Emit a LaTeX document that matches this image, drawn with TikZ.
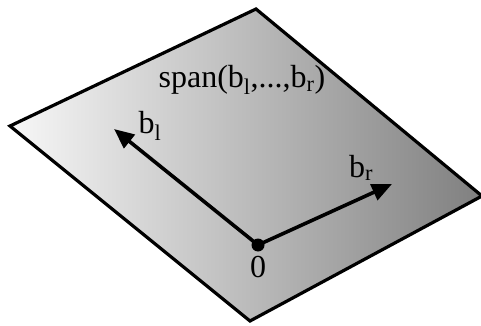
\documentclass[tikz,border=0pt]{standalone}
\usepackage{fontspec}
\setmainfont{Liberation Serif}
\usetikzlibrary{arrows.meta}

\begin{document}
\begin{tikzpicture}[
    x=1pt, y=-1pt,
    >={Triangle[length=20pt, width=17pt]},
    plane/.style  = {draw, line width=3.2pt, line join=miter,
                     left color=black!3, right color=black!50},
    vec/.style    = {->, line width=3.6pt},
    origin/.style = {circle, fill, inner sep=0pt, minimum size=13pt},
    lbl/.style    = {font=\fontsize{32}{36}\selectfont, inner sep=0pt}
]
\useasboundingbox (0, 0) rectangle (481, 326);

% Plane
\coordinate (top)    at (256, 9);
\coordinate (left)   at (10, 126);
\coordinate (bottom) at (250, 321);
\coordinate (right)  at (482, 196);
\path[plane] (top) -- (right) -- (bottom) -- (left) -- cycle;
\node[lbl] (span) at (242, 80) {span(b\textsubscript{l},...,b\textsubscript{r})};

% Basis vectors
\node[origin] (O) at (258, 245) {};
\coordinate (b1) at (114, 129);
\coordinate (br) at (392, 184);
\draw[vec] (O.center) -- (b1);
\draw[vec] (O.center) -- (br);
\node[lbl] (lb1) at (150, 126) {b\textsubscript{l}};
\node[lbl] (lbr) at (361, 168) {b\textsubscript{r}};
\node[lbl] (l0) at (258, 267) {0};

\end{tikzpicture}
\end{document}
